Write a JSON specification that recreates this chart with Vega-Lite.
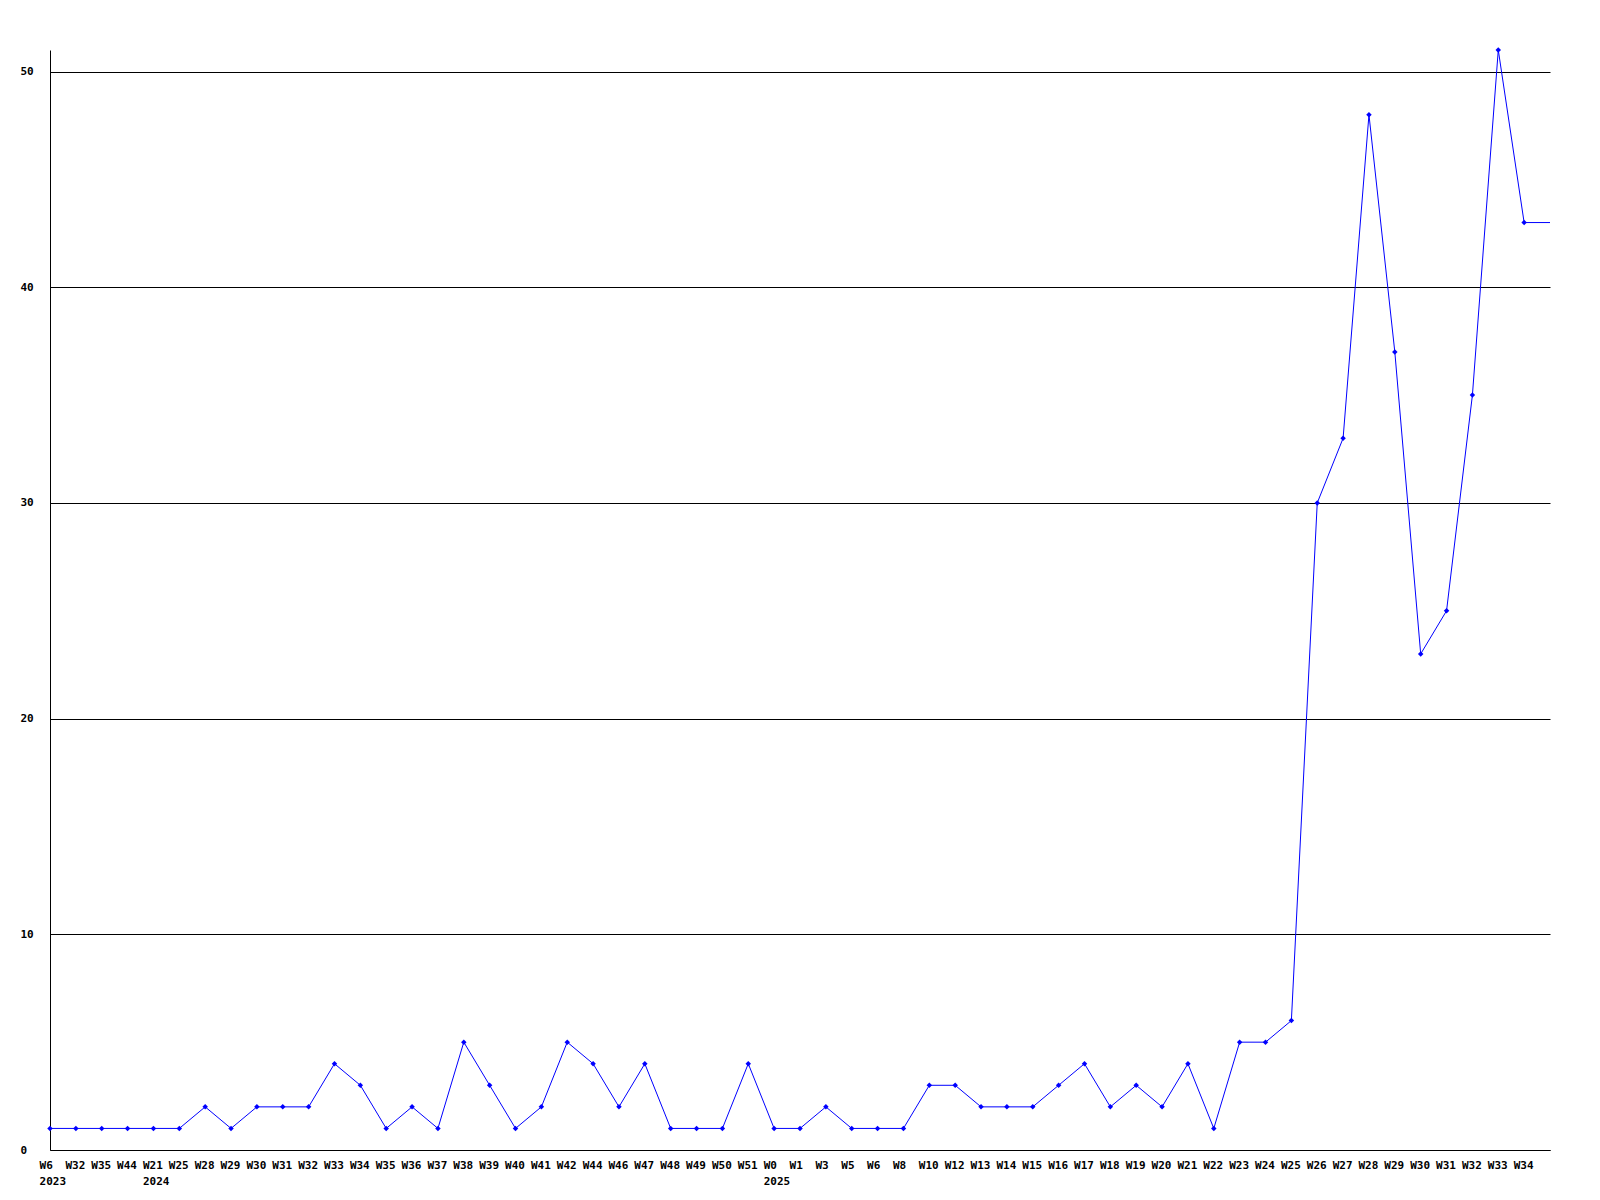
{
  "$schema": "https://vega.github.io/schema/vega-lite/v6.json",
  "width": 1500,
  "height": 1100,
  "autosize": {"type": "none"},
  "padding": {"left": 50, "top": 50, "right": 50, "bottom": 50},
  "background": "white",
  "config": {
    "view": {"stroke": null},
    "axis": {"labelFont": "DejaVu Sans Mono", "labelFontWeight": "bold", "labelFontSize": 11, "labelColor": "black", "domainColor": "black", "domainWidth": 1, "ticks": false, "tickSize": 0, "title": null}
  },
  "data": {"values": [
    {"k": "2023 W6", "v": 1}, {"k": "2023 W32", "v": 1}, {"k": "2023 W35", "v": 1}, {"k": "2023 W44", "v": 1},
    {"k": "2024 W21", "v": 1}, {"k": "2024 W25", "v": 1}, {"k": "2024 W28", "v": 2}, {"k": "2024 W29", "v": 1},
    {"k": "2024 W30", "v": 2}, {"k": "2024 W31", "v": 2}, {"k": "2024 W32", "v": 2}, {"k": "2024 W33", "v": 4},
    {"k": "2024 W34", "v": 3}, {"k": "2024 W35", "v": 1}, {"k": "2024 W36", "v": 2}, {"k": "2024 W37", "v": 1},
    {"k": "2024 W38", "v": 5}, {"k": "2024 W39", "v": 3}, {"k": "2024 W40", "v": 1}, {"k": "2024 W41", "v": 2},
    {"k": "2024 W42", "v": 5}, {"k": "2024 W44", "v": 4}, {"k": "2024 W46", "v": 2}, {"k": "2024 W47", "v": 4},
    {"k": "2024 W48", "v": 1}, {"k": "2024 W49", "v": 1}, {"k": "2024 W50", "v": 1}, {"k": "2024 W51", "v": 4},
    {"k": "2025 W0", "v": 1}, {"k": "2025 W1", "v": 1}, {"k": "2025 W3", "v": 2}, {"k": "2025 W5", "v": 1},
    {"k": "2025 W6", "v": 1}, {"k": "2025 W8", "v": 1}, {"k": "2025 W10", "v": 3}, {"k": "2025 W12", "v": 3},
    {"k": "2025 W13", "v": 2}, {"k": "2025 W14", "v": 2}, {"k": "2025 W15", "v": 2}, {"k": "2025 W16", "v": 3},
    {"k": "2025 W17", "v": 4}, {"k": "2025 W18", "v": 2}, {"k": "2025 W19", "v": 3}, {"k": "2025 W20", "v": 2},
    {"k": "2025 W21", "v": 4}, {"k": "2025 W22", "v": 1}, {"k": "2025 W23", "v": 5}, {"k": "2025 W24", "v": 5},
    {"k": "2025 W25", "v": 6}, {"k": "2025 W26", "v": 30}, {"k": "2025 W27", "v": 33}, {"k": "2025 W28", "v": 48},
    {"k": "2025 W29", "v": 37}, {"k": "2025 W30", "v": 23}, {"k": "2025 W31", "v": 25}, {"k": "2025 W32", "v": 35},
    {"k": "2025 W33", "v": 51}, {"k": "2025 W34", "v": 43}
  ]},
  "encoding": {
    "x": {
      "field": "k", "type": "ordinal", "sort": null, "bandPosition": 0,
      "scale": {"type": "band", "paddingInner": 0, "paddingOuter": 0},
      "axis": {
        "domain": true, "grid": false, "labelAngle": 0, "labelAlign": "left",
        "labelOffset": -23.4, "labelBaseline": "top", "labelPadding": 9, "labelOverlap": false,
        "labelBound": false, "labelLineHeight": 16,
        "labelExpr": "indexof(['2023 W6','2024 W21','2025 W0'], datum.value) >= 0 ? [substring(datum.value,5), substring(datum.value,0,4)] : substring(datum.value,5)"
      }
    },
    "y": {
      "field": "v", "type": "quantitative",
      "scale": {"domain": [0, 51], "nice": false},
      "axis": {
        "domain": true, "grid": true, "gridColor": "black", "gridOpacity": 1, "gridWidth": 1,
        "values": [0, 10, 20, 30, 40, 50], "labelAlign": "left", "labelPadding": 30, "labelBaseline": "middle"
      }
    }
  },
  "layer": [
    {"mark": {"type": "line", "color": "#0000ff", "strokeWidth": 1}},
    {"mark": {"type": "point", "shape": "diamond", "filled": true, "color": "#0000ff", "size": 30, "opacity": 1}},
    {
      "transform": [{"filter": "datum.k == '2025 W34'"}],
      "mark": {"type": "rule", "color": "#0000ff", "strokeWidth": 1},
      "encoding": {"x2": {"field": "k", "bandPosition": 1}}
    }
  ]
}
